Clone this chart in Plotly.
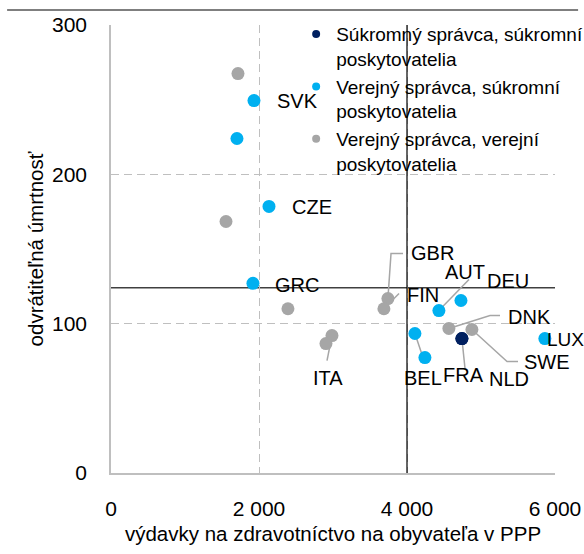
import plotly.graph_objects as go

# Health spending per capita (PPP) vs amenable mortality, by system type
legend_names = [
    "Súkromný správca, súkromní<br>poskytovatelia",
    "Verejný správca, súkromní<br>poskytovatelia",
    "Verejný správca, verejní<br>poskytovatelia",
]
group_colors = ["#002060", "#00B0F0", "#A6A6A6"]

# private manager, private providers
priv_names = ["FRA", "NLD"]
priv_x = [4742, 4742]
priv_y = [90, 90]

# public manager, private providers
pubpriv_names = ["SVK", "", "CZE", "GRC", "AUT", "DEU", "BEL", "", "LUX"]
pubpriv_x = [1932, 1702, 2135, 1918, 4431, 4729, 4107, 4242, 5863]
pubpriv_y = [249.4, 224, 178.5, 127, 108.8, 115.5, 93.4, 77.3, 90]

# public manager, public providers
pub_names = ["", "", "", "ITA", "", "GBR", "FIN", "DNK", "SWE"]
pub_x = [1716, 1554, 2391, 2986, 2905, 3742, 3688, 4566, 4877]
pub_y = [267.5, 168.4, 110, 92, 86.7, 116.8, 110, 96.8, 96.1]

x_ticks = [0, 2000, 4000, 6000]
x_ticktext = ["0", "2 000", "4 000", "6 000"]
y_ticks = [0, 100, 200, 300]

x_ref = 4000      # vertical reference line
y_ref = 124       # horizontal reference line

FONT = "Liberation Sans, Arial, sans-serif"

# label placement (data units): text centre, and optional leader path after the point
labels = {
    "SVK": dict(pos=(2514, 248.8)),
    "CZE": dict(pos=(2710, 178.1)),
    "GRC": dict(pos=(2520, 126.2)),
    "ITA": dict(pos=(2933, 63.3), lead=[(2919, 75.3)]),
    "GBR": dict(pos=(4338, 147), lead=[(3784, 147), (3946, 147)]),
    "FIN": dict(pos=(4210, 118.9), lead=[(3892, 120.2)]),
    "AUT": dict(pos=(4784, 134.6), lead=[(4838, 129.6)]),
    "DEU": dict(pos=(5365, 128.9)),
    "DNK": dict(pos=(5656, 104.5), lead=[(5122, 105.5), (5257, 105.5)]),
    "SWE": dict(pos=(5892, 74.3), lead=[(5352, 74.7), (5500, 74.7)]),
    "NLD": dict(pos=(5372, 63)),
    "FRA": dict(pos=(4770, 65.6), lead=[(4784, 70)]),
    "BEL": dict(pos=(4216, 63.3), lead=[(4230, 75.3)]),
    "LUX": dict(pos=(5868, 89.7), anchor="left", size=19),
}

groups = [
    (priv_names, priv_x, priv_y),
    (pubpriv_names, pubpriv_x, pubpriv_y),
    (pub_names, pub_x, pub_y),
]

fig = go.Figure()

# leader lines (drawn first so the markers sit on top)
for names, xs, ys in groups:
    for n, x, y in zip(names, xs, ys):
        spec = labels.get(n)
        if spec and "lead" in spec:
            lx = [x] + [p[0] for p in spec["lead"]]
            ly = [y] + [p[1] for p in spec["lead"]]
            fig.add_trace(go.Scatter(
                x=lx, y=ly, mode="lines",
                line=dict(color="#A6A6A6", width=1.5),
                showlegend=False, hoverinfo="skip"))

# markers: public/public underneath, then public/private, then private/private
for idx in [2, 1, 0]:
    names, xs, ys = groups[idx]
    fig.add_trace(go.Scatter(
        x=xs, y=ys, mode="markers", text=names,
        marker=dict(size=13, color=group_colors[idx], line=dict(width=0)),
        showlegend=False))

# legend entries with small symbols
for idx in range(3):
    fig.add_trace(go.Scatter(
        x=[None], y=[None], mode="markers", name=legend_names[idx],
        marker=dict(size=8, color=group_colors[idx]),
        legendrank=idx + 1))

# country labels
for names, xs, ys in groups:
    for n in names:
        spec = labels.get(n)
        if not spec:
            continue
        fig.add_annotation(
            x=spec["pos"][0], y=spec["pos"][1], text=n, showarrow=False,
            xanchor=spec.get("anchor", "center"), yanchor="middle",
            font=dict(family=FONT, size=spec.get("size", 20), color="#000000"))

# reference lines
fig.add_shape(type="line", xref="x", yref="y", x0=x_ref, x1=x_ref,
              y0=y_ticks[0], y1=y_ticks[-1], line=dict(color="#000000", width=1.2),
              layer="above")
fig.add_shape(type="line", xref="x", yref="y", x0=x_ticks[0], x1=x_ticks[-1],
              y0=y_ref, y1=y_ref, line=dict(color="#404040", width=1.5),
              layer="below")
# header rule
fig.add_shape(type="line", xref="paper", yref="paper", x0=-0.234, x1=1.052,
              y0=1.0335, y1=1.0335, line=dict(color="#000000", width=1.2))

axis_common = dict(
    showgrid=True, gridcolor="#BFBFBF", griddash="8px,5px", gridwidth=1,
    zeroline=False, showline=True, linecolor="#BFBFBF", linewidth=1.5,
    ticks="", tickfont=dict(family=FONT, size=21, color="#000000"),
)

fig.update_xaxes(
    range=[x_ticks[0], x_ticks[-1]], tickvals=x_ticks, ticktext=x_ticktext,
    ticklabelstandoff=16,
    title=dict(text="výdavky na zdravotníctvo na obyvateľa v PPP",
               font=dict(family=FONT, size=20.5, color="#000000"), standoff=8),
    **axis_common)
fig.update_yaxes(
    range=[y_ticks[0], y_ticks[-1]], tickvals=y_ticks,
    ticklabelstandoff=18,
    title=dict(text="odvrátiteľná úmrtnosť",
               font=dict(family=FONT, size=20.5, color="#000000"), standoff=3),
    **axis_common)

fig.update_layout(
    width=584, height=554,
    margin=dict(l=111, r=29, t=25, b=81, autoexpand=False),
    plot_bgcolor="#FFFFFF", paper_bgcolor="#FFFFFF",
    font=dict(family=FONT, size=20, color="#000000"),
    showlegend=True,
    legend=dict(x=0.417, y=1.022, xanchor="left", yanchor="top",
                bgcolor="rgba(0,0,0,0)", borderwidth=0, valign="top",
                font=dict(family=FONT, size=19, color="#000000"),
                tracegroupgap=0, itemclick=False),
)

fig.write_html("out.html")
